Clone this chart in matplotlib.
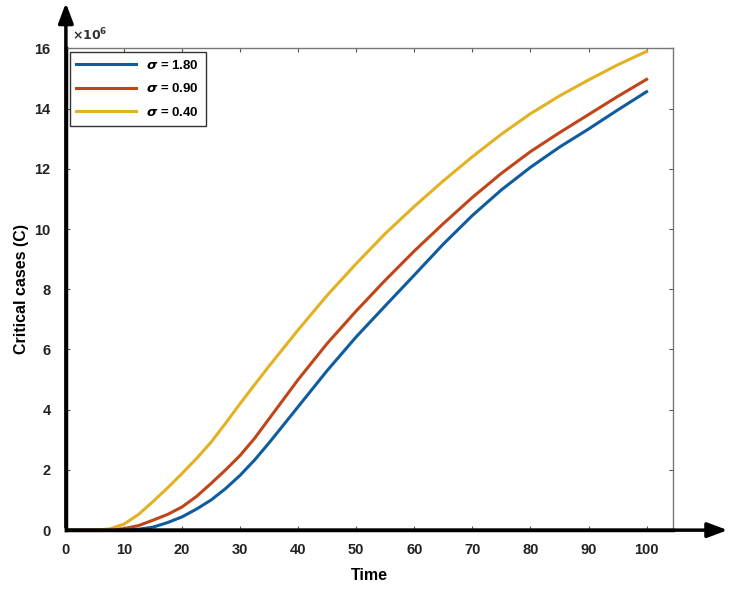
import numpy as np
import matplotlib.pyplot as plt

# time (days) and critical cases in units of 1e6
t = [0, 5, 7.5, 10, 12.5, 15, 17.5, 20, 22.5, 25, 27.5, 30, 32.5, 35,
     40, 45, 50, 55, 60, 65, 70, 75, 80, 85, 90, 95, 100]
c_180 = [0, 0, 0, 0, 0.03, 0.1, 0.25, 0.44, 0.7, 1.0, 1.38, 1.82, 2.33, 2.9,
         4.1, 5.3, 6.42, 7.45, 8.47, 9.5, 10.45, 11.3, 12.05, 12.72, 13.32, 13.95, 14.56]
c_090 = [0, 0, 0.01, 0.05, 0.15, 0.33, 0.52, 0.77, 1.12, 1.55, 2.0, 2.48, 3.05, 3.7,
         5.0, 6.2, 7.28, 8.3, 9.27, 10.18, 11.05, 11.85, 12.57, 13.2, 13.8, 14.4, 14.97]
c_040 = [0, 0, 0.04, 0.2, 0.52, 0.95, 1.4, 1.88, 2.38, 2.92, 3.55, 4.2, 4.83, 5.45,
         6.65, 7.8, 8.85, 9.85, 10.75, 11.6, 12.4, 13.15, 13.83, 14.42, 14.95, 15.45, 15.9]

labels = [r'$\sigma$ = 1.80', r'$\sigma$ = 0.90', r'$\sigma$ = 0.40']
colors = ['#0f5c9e', '#c0461a', '#e3b122']
xticks = list(range(0, 101, 10))
yticks = list(range(0, 17, 2))

plt.rcParams['font.family'] = ['Liberation Sans', 'DejaVu Sans']
plt.rcParams['font.weight'] = 'bold'

fig = plt.figure(figsize=(7.32, 5.97), dpi=100)
ax = fig.add_axes([0.090, 0.112, 0.829, 0.807])

for y, lab, col in zip([c_180, c_090, c_040], labels, colors):
    ax.plot(t, y, color=col, lw=2.2, label=lab)

ax.set_xlim(0, 104.5)
ax.set_ylim(0, 16)
ax.set_xticks(xticks)
ax.set_yticks(yticks)
ax.tick_params(direction='in', length=3, width=0.8, top=True, right=True,
               labelsize=10.5, labelcolor='#222222', color='#555555')
ax.tick_params(axis='x', pad=9)
ax.tick_params(axis='y', pad=11)
for lbl in ax.get_xticklabels() + ax.get_yticklabels():
    lbl.set_fontweight('bold')

for s in ['top', 'right']:
    ax.spines[s].set_color('#777777')
    ax.spines[s].set_linewidth(1.0)
for s in ['left', 'bottom']:
    ax.spines[s].set_color('black')
    ax.spines[s].set_linewidth(2.5)

ax.set_xlabel('Time', fontsize=11.5, fontweight='bold', labelpad=8)
ax.set_ylabel('Critical cases (C)', fontsize=11.5, fontweight='bold', labelpad=4)
ax.text(0.01, 1.01, r'$\times10^6$', transform=ax.transAxes, fontsize=9,
        color='#333333', ha='left', va='bottom')

# axis arrows
ax.annotate('', xy=(1.095, 0), xytext=(0, 0), xycoords='axes fraction',
            arrowprops=dict(arrowstyle='-|>,head_length=1.2,head_width=0.45',
                            color='black', lw=2.5), annotation_clip=False)
ax.annotate('', xy=(0, 1.1), xytext=(0, 0), xycoords='axes fraction',
            arrowprops=dict(arrowstyle='-|>,head_length=1.2,head_width=0.45',
                            color='black', lw=2.5), annotation_clip=False)

leg = ax.legend(loc='upper left', fontsize=9.5, handlelength=4.5,
                fancybox=False, framealpha=1, borderaxespad=0.3,
                borderpad=0.5, labelspacing=0.8)
leg.get_frame().set_edgecolor('#333333')
leg.get_frame().set_linewidth(1.0)
for txt in leg.get_texts():
    txt.set_fontweight('bold')

fig.savefig('out.png', dpi=100)
